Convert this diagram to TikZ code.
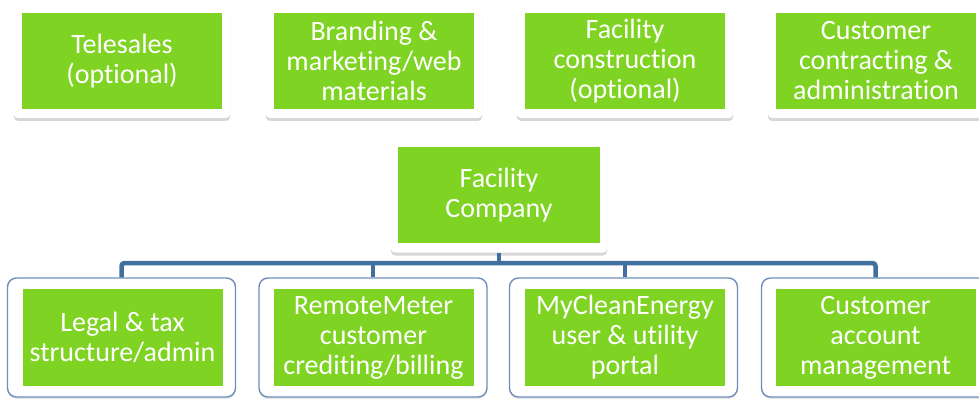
\documentclass[tikz,border=0pt]{standalone}
\usepackage{fontspec}
\setmainfont[Ligatures=NoCommon]{Carlito}
\usetikzlibrary{shadows}
\definecolor{boxgreen}{RGB}{127,211,34}
\definecolor{connblue}{RGB}{65,112,158}
\definecolor{framblue}{RGB}{110,143,186}
\begin{document}
\begin{tikzpicture}[x=1pt,y=-1pt,
  topframe/.style={rectangle, rounded corners=4pt, fill=white, minimum width=216pt, minimum height=113pt, inner sep=0pt,
    drop shadow={shadow xshift=0pt, shadow yshift=-3pt, opacity=0.35, fill=black!45}},
  botframe/.style={rectangle, rounded corners=9pt, fill=white, draw=framblue, line width=1.4pt, minimum width=228pt, minimum height=119pt, inner sep=0pt,
    drop shadow={shadow xshift=0pt, shadow yshift=-2pt, opacity=0.25, fill=black!40}},
  greenbox/.style={rectangle, fill=boxgreen, minimum width=200pt, minimum height=96pt, inner sep=0pt, align=center,
    text=white, font=\fontsize{28}{30}\selectfont},
  conn/.style={draw=connblue, line width=4.5pt, rounded corners=3pt}]
\useasboundingbox (0,0) rectangle (979,401);
% top row
\node[topframe] (f1) at (122,61.5) {};
\node[greenbox] (t1) at (122,61) {Telesales\\(optional)};
\node[topframe] (f2) at (374,61.5) {};
\node[greenbox] (t2) at (374,61) {Branding \&\\marketing/web\\materials};
\node[topframe] (f3) at (625,61.5) {};
\node[greenbox] (t3) at (625,61) {Facility\\construction\\(optional)};
\node[topframe] (f4) at (876,61.5) {};
\node[greenbox] (t4) at (876,61) {Customer\\contracting \&\\administration};
% middle
\node[topframe] (fcf) at (499,196) {};
\node[greenbox, minimum width=202pt] (fc) at (499,195) {Facility\\Company};
% bottom row
\node[botframe] (b1f) at (121.5,337.5) {};
\node[greenbox, minimum height=97pt] (b1) at (122.5,337.5) {Legal \& tax\\structure/admin};
\node[botframe] (b2f) at (373,337.5) {};
\node[greenbox, minimum height=97pt] (b2) at (373.5,337.5) {RemoteMeter\\customer\\crediting/billing};
\node[botframe] (b3f) at (623.5,337.5) {};
\node[greenbox, minimum height=97pt] (b3) at (625,337.5) {MyCleanEnergy\\user \& utility\\portal};
\node[botframe] (b4f) at (875.5,337.5) {};
\node[greenbox, minimum height=97pt] (b4) at (875.5,337.5) {Customer\\account\\management};
% connectors
\coordinate (bus) at (499,263);
\draw[conn] (fcf.south) -- (bus);
\draw[conn] (b1f.north) |- (bus) -| (b4f.north);
\draw[conn] (b2f.north) -- (b2f.north |- bus);
\draw[conn] (b3.north |- b3f.north) -- (b3.north |- bus);
\end{tikzpicture}
\end{document}
